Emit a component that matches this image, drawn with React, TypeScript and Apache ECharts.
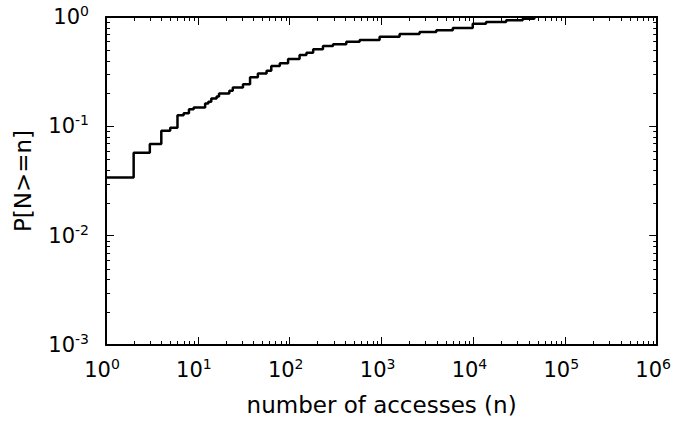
import React, { useEffect, useRef } from "react";
import * as echarts from "echarts";

// Step curve: access count n where the cumulative probability jumps, and value after jump
const accessCounts = [
  1, 2, 3, 4, 5, 6, 7, 8, 9, 12, 13, 14, 16, 17, 22, 24, 31, 37, 45, 56, 63, 78, 96,
  128, 152, 180, 230, 296, 413, 577, 951, 1570, 2590, 3940, 5960, 9820, 13700,
  22700, 34400, 46000,
];
const probabilities = [
  0.0341, 0.0573, 0.0689, 0.0912, 0.0971, 0.126, 0.1315, 0.143, 0.149, 0.162, 0.168,
  0.18, 0.187, 0.2, 0.212, 0.226, 0.242, 0.281, 0.305, 0.323, 0.356, 0.377, 0.413,
  0.449, 0.471, 0.506, 0.543, 0.563, 0.594, 0.616, 0.661, 0.699, 0.729, 0.756, 0.793,
  0.869, 0.9, 0.933, 0.965, 1.0,
];

const xDecades = [0, 1, 2, 3, 4, 5, 6];
const yDecades = [-3, -2, -1, 0];
const minorMultipliers = [2, 3, 4, 5, 6, 7, 8, 9];

const FONT = "DejaVu Sans";

const powLabel = (v: number) => {
  const e = Math.round(Math.log10(v));
  return `{b|10}{s|${e}}`;
};

const rich = {
  b: { fontSize: 21, fontFamily: FONT, color: "#000", lineHeight: 26 },
  s: { fontSize: 14, fontFamily: FONT, color: "#000", lineHeight: 14, padding: [0, 0, 12, 0] },
};

export default function App() {
  const ref = useRef<HTMLDivElement>(null);
  useEffect(() => {
    if (!ref.current) return;
    const chart = echarts.init(ref.current, undefined, { renderer: "svg" });

    const lineData = accessCounts.map((n, i) => [n, probabilities[i]]);
    const minorData: number[][] = [];
    xDecades.slice(0, -1).forEach((d) =>
      minorMultipliers.forEach((k) => minorData.push([k * Math.pow(10, d), 0.5, 0]))
    );
    yDecades.slice(0, -1).forEach((d) =>
      minorMultipliers.forEach((k) => minorData.push([10, k * Math.pow(10, d), 1]))
    );

    const axisLine = { show: true, lineStyle: { color: "#000", width: 2 } };
    const majorTick = { show: true, inside: true, length: 8, lineStyle: { color: "#000", width: 1 } };

    chart.setOption({
      animation: false,
      textStyle: { fontFamily: FONT },
      grid: { left: 106, right: 16, top: 17, bottom: 76, containLabel: false },
      xAxis: [
        {
          type: "log",
          logBase: 10,
          min: Math.pow(10, xDecades[0]),
          max: Math.pow(10, xDecades[xDecades.length - 1]),
          interval: 1,
          position: "bottom",
          axisLine,
          axisTick: majorTick,
          splitLine: { show: false },
          axisLabel: {
            show: true,
            margin: 12,
            padding: [0, 8, 0, 0],
            formatter: powLabel,
            rich,
            showMinLabel: true,
            showMaxLabel: true,
            hideOverlap: false,
          },
          name: "number of accesses (n)",
          nameLocation: "middle",
          nameGap: 48,
          nameTextStyle: { fontSize: 23, fontFamily: FONT, color: "#000" },
        },
        {
          type: "log",
          logBase: 10,
          min: Math.pow(10, xDecades[0]),
          max: Math.pow(10, xDecades[xDecades.length - 1]),
          interval: 1,
          position: "top",
          axisLine,
          axisTick: majorTick,
          splitLine: { show: false },
          axisLabel: { show: false },
        },
      ],
      yAxis: [
        {
          type: "log",
          logBase: 10,
          min: Math.pow(10, yDecades[0]),
          max: Math.pow(10, yDecades[yDecades.length - 1]),
          interval: 1,
          position: "left",
          axisLine,
          axisTick: majorTick,
          splitLine: { show: false },
          axisLabel: {
            show: true,
            margin: 17,
            formatter: powLabel,
            rich,
            showMinLabel: true,
            showMaxLabel: true,
            hideOverlap: false,
          },
          name: "P[N>=n]",
          nameLocation: "middle",
          nameGap: 72,
          nameRotate: 90,
          nameTextStyle: { fontSize: 23, fontFamily: FONT, color: "#000" },
        },
        {
          type: "log",
          logBase: 10,
          min: Math.pow(10, yDecades[0]),
          max: Math.pow(10, yDecades[yDecades.length - 1]),
          interval: 1,
          position: "right",
          axisLine,
          axisTick: majorTick,
          splitLine: { show: false },
          axisLabel: { show: false },
        },
      ],
      series: [
        {
          type: "custom",
          xAxisIndex: 0,
          yAxisIndex: 0,
          silent: true,
          clip: false,
          data: minorData,
          renderItem: (params: any, api: any) => {
            const cs = params.coordSys;
            const kind = api.value(2);
            const st = { stroke: "#000", lineWidth: 1 };
            if (kind === 0) {
              const p = api.coord([api.value(0), 0.5]);
              const x = Math.round(p[0]) + 0.5;
              return {
                type: "group",
                children: [
                  { type: "line", shape: { x1: x, y1: cs.y + cs.height, x2: x, y2: cs.y + cs.height - 4 }, style: st },
                  { type: "line", shape: { x1: x, y1: cs.y, x2: x, y2: cs.y + 4 }, style: st },
                ],
              };
            }
            const p = api.coord([10, api.value(1)]);
            const y = Math.round(p[1]) + 0.5;
            return {
              type: "group",
              children: [
                { type: "line", shape: { x1: cs.x, y1: y, x2: cs.x + 4, y2: y }, style: st },
                { type: "line", shape: { x1: cs.x + cs.width, y1: y, x2: cs.x + cs.width - 4, y2: y }, style: st },
              ],
            };
          },
        },
        {
          type: "line",
          xAxisIndex: 0,
          yAxisIndex: 0,
          data: lineData,
          step: "end",
          showSymbol: false,
          symbol: "none",
          lineStyle: { color: "#000", width: 2.5 },
          z: 5,
        },
      ],
    });
    return () => chart.dispose();
  }, []);

  return (
    <div
      ref={ref}
      style={{ position: "fixed", left: 0, top: 0, width: 674, height: 421, background: "#fff" }}
    />
  );
}
